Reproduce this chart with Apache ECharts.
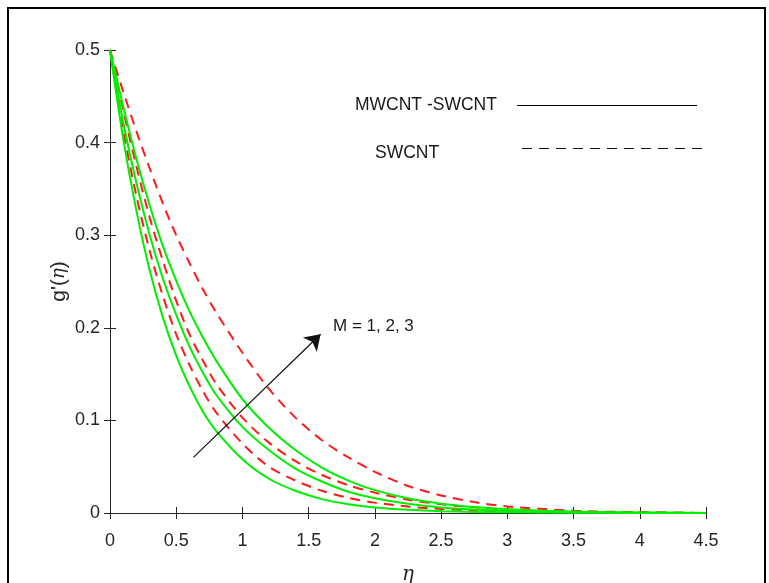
<!DOCTYPE html>
<html>
<head>
<meta charset="utf-8">
<script src="https://cdn.jsdelivr.net/npm/echarts@6/dist/echarts.min.js"></script>
<style>html,body{margin:0;padding:0;background:#fff;}#c{width:769px;height:583px;}</style>
</head>
<body>
<div id="c"></div>
<script>
// eta grid
const eta = [0, 0.1, 0.2, 0.3, 0.4, 0.5, 0.6, 0.7, 0.8, 1.0, 1.2, 1.4, 1.6, 1.8, 2.0, 2.25, 2.5, 2.75, 3.0, 3.5, 4.0, 4.5];
// MWCNT-SWCNT (solid green), M = 1, 2, 3
const hybridM1 = [0.5, 0.404, 0.326, 0.262, 0.211, 0.170, 0.137, 0.110, 0.089, 0.058, 0.037, 0.024, 0.015, 0.0095, 0.006, 0.0035, 0.002, 0.0012, 0.0007, 0.0003, 0.0001, 0];
const hybridM2 = [0.5, 0.422, 0.356, 0.300, 0.253, 0.214, 0.180, 0.152, 0.128, 0.093, 0.068, 0.048, 0.034, 0.023, 0.016, 0.010, 0.006, 0.0037, 0.0022, 0.0008, 0.0003, 0];
const hybridM3 = [0.5, 0.439, 0.382, 0.332, 0.288, 0.251, 0.218, 0.190, 0.165, 0.123, 0.092, 0.068, 0.049, 0.035, 0.0247, 0.0159, 0.0101, 0.0065, 0.0041, 0.0015, 0.0005, 0];
// SWCNT (dashed red), M = 1, 2, 3
const swcntM1 = [0.5, 0.413, 0.342, 0.283, 0.234, 0.193, 0.160, 0.132, 0.109, 0.075, 0.050, 0.035, 0.024, 0.0164, 0.0112, 0.0069, 0.0043, 0.0027, 0.0017, 0.0006, 0.0002, 0];
const swcntM2 = [0.5, 0.435, 0.374, 0.319, 0.272, 0.229, 0.193, 0.165, 0.140, 0.103, 0.076, 0.056, 0.041, 0.030, 0.022, 0.0144, 0.0094, 0.0061, 0.0039, 0.0015, 0.0005, 0];
const swcntM3 = [0.5, 0.455, 0.412, 0.372, 0.334, 0.300, 0.270, 0.242, 0.217, 0.173, 0.134, 0.103, 0.0786, 0.060, 0.0445, 0.0292, 0.019, 0.0118, 0.0071, 0.0025, 0.0008, 0];
// axis ticks
const xTicks = [0, 0.5, 1, 1.5, 2, 2.5, 3, 3.5, 4, 4.5];
const yTicks = [0, 0.1, 0.2, 0.3, 0.4, 0.5];
// annotation arrow (data coords)
const arrowStart = [0.63, 0.060];
const arrowEnd = [1.59, 0.193];
const legendLabels = ['MWCNT -SWCNT', 'SWCNT'];
const annotationText = 'M = 1, 2, 3';

const pair = arr => eta.map((x, i) => [x, arr[i]]);
const axisColor = '#262626';
const fontFam = '"Liberation Sans", Arial, sans-serif';

const greenStyle = { color: '#00ee00', width: 2, type: 'solid' };
const redStyle = { color: '#ff1a1a', width: 2, type: [10, 7] };

function mk(name, arr, style) {
  return {
    name, type: 'line', data: pair(arr), showSymbol: false, smooth: 0.3,
    lineStyle: style, itemStyle: { color: style.color }, silent: true, z: 3
  };
}

const series = [
  mk('swcnt1', swcntM1, redStyle),
  mk('swcnt2', swcntM2, redStyle),
  mk('swcnt3', swcntM3, redStyle),
  mk('hyb1', hybridM1, greenStyle),
  mk('hyb2', hybridM2, greenStyle),
  mk('hyb3', hybridM3, greenStyle)
];
series.push({
  type: 'line', data: [], silent: true, z: 5,
  markLine: {
    silent: true, symbol: ['none', 'arrow'], symbolSize: 15, precision: 4,
    lineStyle: { color: '#111', width: 1.2, type: 'solid' },
    itemStyle: { color: '#111' },
    label: { show: false },
    emphasis: { disabled: true },
    data: [[{ coord: arrowStart }, { coord: arrowEnd }]]
  }
});

const chart = echarts.init(document.getElementById('c'), null, { renderer: 'canvas' });

const baseX = {
  type: 'value', min: xTicks[0], max: xTicks[xTicks.length - 1], interval: 0.5,
  axisLine: { show: true, lineStyle: { color: axisColor, width: 1 } },
  axisTick: { show: true, inside: true, length: 6, lineStyle: { color: axisColor } },
  splitLine: { show: false }
};
const baseY = {
  type: 'value', min: yTicks[0], max: yTicks[yTicks.length - 1], interval: 0.1,
  axisLine: { show: true, lineStyle: { color: axisColor, width: 1 } },
  axisTick: { show: true, inside: true, length: 6, lineStyle: { color: axisColor } },
  splitLine: { show: false }
};

chart.setOption({
  animation: false,
  backgroundColor: '#fff',
  grid: { left: 110, right: 63, top: 50, bottom: 70, containLabel: false, outerBoundsMode: 'none' },
  xAxis: [
    Object.assign({}, baseX, {
      position: 'bottom',
      axisLabel: { show: true, color: axisColor, fontSize: 18, fontFamily: fontFam, margin: 19,
        formatter: v => String(v) },
      name: 'η', nameLocation: 'middle', nameGap: 52, nameMoveOverlap: false,
      nameTextStyle: { fontFamily: '"DejaVu Serif", "Liberation Serif", serif', fontStyle: 'italic', fontSize: 20, color: axisColor }
    }),
    Object.assign({}, baseX, { position: 'top', axisLabel: { show: false } })
  ],
  yAxis: [
    Object.assign({}, baseY, {
      position: 'left',
      axisLabel: { show: true, color: axisColor, fontSize: 18, fontFamily: fontFam, margin: 10,
        formatter: v => (v === 0 ? '0' : String(v)) },
      name: "g'({e|η})", nameLocation: 'middle', nameGap: 40, nameRotate: 90, nameMoveOverlap: false,
      nameTextStyle: { fontFamily: fontFam, fontSize: 21, color: axisColor,
        rich: { e: { fontFamily: '"DejaVu Serif", "Liberation Serif", serif', fontStyle: 'italic', fontSize: 18, color: axisColor } } }
    }),
    Object.assign({}, baseY, { position: 'right', axisLabel: { show: false } })
  ],
  series,
  graphic: [
    { type: 'rect', shape: { x: 8, y: 8, width: 757, height: 620 }, style: { fill: 'none', stroke: '#000', lineWidth: 2 }, z: 10, silent: true },
    { type: 'text', x: 355, y: 105, style: { text: legendLabels[0], font: '17.5px "Liberation Sans", Arial, sans-serif', fill: '#1a1a1a', verticalAlign: 'middle' }, z: 10 },
    { type: 'line', shape: { x1: 517, y1: 105.5, x2: 697, y2: 105.5 }, style: { stroke: '#000', lineWidth: 1 }, z: 10 },
    { type: 'text', x: 375, y: 153, style: { text: legendLabels[1], font: '17.5px "Liberation Sans", Arial, sans-serif', fill: '#1a1a1a', verticalAlign: 'middle' }, z: 10 },
    { type: 'line', shape: { x1: 522, y1: 148.5, x2: 703, y2: 148.5 }, style: { stroke: '#111', lineWidth: 1, lineDash: [10, 7] }, z: 10 },
    { type: 'text', x: 333, y: 326, style: { text: annotationText, font: '17px "Liberation Sans", Arial, sans-serif', fill: '#1a1a1a', verticalAlign: 'middle' }, z: 10 }
  ]
});
</script>
</body>
</html>
